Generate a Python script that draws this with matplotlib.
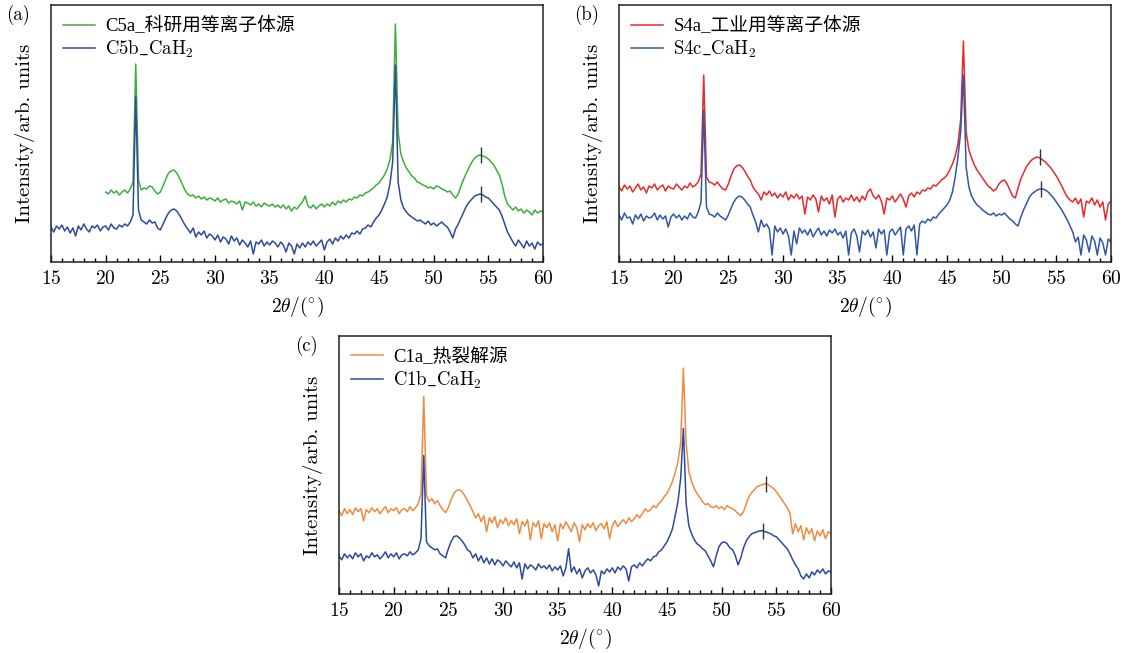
import numpy as np
from matplotlib import pyplot as plt

plt.rcParams['font.family'] = ['cmr10', 'Noto Sans CJK SC', 'DejaVu Sans']
plt.rcParams['mathtext.fontset'] = 'cm'
plt.rcParams['axes.formatter.use_mathtext'] = True

# 2theta sampling (deg)
theta_a_green = np.arange(20, 60.001, 0.25)
theta = np.arange(15, 60.001, 0.25)

# (a) C5a / C5b
c5a = [70, 68, 72, 69, 71, 67, 70, 72, 69, 73, 80, 198,
       82, 72, 74, 73, 76, 75, 71, 68, 70, 76, 83, 89,
       91, 92, 89, 84, 78, 72, 68, 66, 67, 64, 66, 63,
       65, 62, 64, 63, 61, 64, 60, 62, 63, 59, 61, 60,
       58, 61, 52, 60, 59, 57, 60, 56, 58, 55, 59, 57,
       56, 58, 55, 57, 54, 57, 53, 56, 51, 55, 53, 57,
       60, 66, 56, 54, 57, 53, 56, 58, 55, 58, 56, 60,
       57, 61, 59, 62, 60, 63, 62, 65, 64, 67, 66, 69,
       70, 72, 74, 77, 79, 83, 87, 93, 102, 120, 238, 130,
       108, 100, 94, 90, 86, 84, 80, 79, 77, 76, 74, 75,
       73, 76, 75, 73, 72, 70, 71, 67, 64, 68, 76, 83,
       89, 95, 100, 104, 106, 107, 106, 105, 103, 100, 97, 92,
       87, 78, 66, 58, 55, 52, 55, 51, 53, 49, 52, 50,
       47, 52, 49, 51, 50]
c5b = [35, 30, 36, 33, 37, 31, 35, 29, 34, 26, 36, 32,
       38, 33, 30, 36, 34, 37, 31, 35, 36, 32, 38, 34,
       33, 37, 35, 38, 36, 40, 47, 165, 52, 42, 40, 38,
       42, 39, 40, 34, 32, 38, 44, 49, 52, 53, 51, 47,
       42, 37, 33, 29, 34, 25, 30, 27, 31, 24, 28, 26,
       22, 27, 20, 25, 23, 18, 26, 21, 24, 17, 22, 19,
       15, 21, 8, 20, 18, 22, 16, 20, 17, 21, 19, 15,
       20, 17, 10, 19, 16, 8, 18, 14, 19, 15, 20, 17,
       21, 16, 19, 22, 12, 20, 23, 18, 24, 21, 26, 23,
       27, 24, 29, 28, 31, 28, 33, 34, 37, 35, 40, 44,
       47, 52, 58, 65, 78, 100, 197, 80, 62, 54, 50, 47,
       45, 43, 41, 42, 40, 38, 41, 37, 39, 36, 38, 40,
       37, 35, 30, 24, 33, 38, 44, 50, 56, 60, 63, 66,
       67, 68, 67, 65, 64, 61, 58, 55, 52, 46, 38, 30,
       25, 20, 16, 22, 18, 14, 21, 16, 19, 13, 20, 17, 18]

# (b) S4a / S4c
s4a = [75, 71, 77, 73, 76, 70, 74, 78, 72, 75, 69, 76,
       74, 78, 72, 75, 77, 71, 76, 74, 73, 78, 75, 72,
       76, 74, 79, 75, 77, 80, 88, 187, 85, 80, 79, 77,
       80, 76, 73, 72, 78, 86, 93, 96, 97, 95, 91, 86,
       82, 75, 71, 68, 62, 70, 67, 71, 66, 69, 64, 68,
       65, 70, 62, 67, 64, 68, 63, 66, 48, 65, 62, 67,
       63, 50, 66, 61, 64, 58, 67, 45, 63, 66, 60, 64,
       62, 67, 61, 65, 60, 66, 62, 70, 73, 66, 63, 67,
       61, 48, 64, 62, 66, 60, 64, 68, 63, 55, 66, 69,
       65, 70, 68, 72, 71, 74, 73, 77, 76, 79, 82, 84,
       87, 92, 98, 106, 118, 142, 221, 130, 112, 104, 97, 92,
       88, 84, 80, 76, 74, 71, 73, 78, 81, 82, 78, 72,
       66, 64, 74, 83, 89, 95, 99, 102, 104, 105, 104, 102,
       100, 97, 94, 90, 86, 81, 76, 70, 65, 62, 60, 64,
       58, 63, 45, 61, 59, 64, 57, 62, 55, 60, 42, 58, 61]
s4c = [47, 42, 49, 44, 45, 38, 47, 43, 48, 41, 46, 44,
       45, 49, 42, 47, 43, 46, 35, 45, 48, 44, 47, 42,
       46, 43, 49, 45, 44, 50, 60, 152, 55, 48, 47, 45,
       49, 46, 44, 42, 47, 54, 60, 64, 66, 65, 62, 58,
       55, 47, 40, 30, 42, 35, 38, 33, 7, 36, 30, 34,
       28, 33, 26, 7, 31, 18, 34, 29, 32, 27, 33, 25,
       30, 34, 27, 31, 26, 32, 29, 33, 27, 30, 24, 31,
       7, 29, 33, 26, 10, 31, 27, 32, 25, 30, 14, 33,
       28, 32, 7, 30, 33, 27, 31, 35, 7, 33, 36, 31,
       37, 7, 38, 41, 39, 43, 41, 45, 44, 48, 51, 54,
       57, 62, 70, 85, 105, 130, 187, 95, 75, 66, 61, 57,
       55, 52, 50, 48, 47, 49, 46, 48, 47, 49, 46, 43,
       41, 38, 36, 45, 52, 58, 64, 68, 70, 72, 73, 73,
       72, 70, 67, 64, 60, 56, 52, 47, 42, 36, 30, 20,
       25, 7, 27, 22, 10, 26, 21, 7, 24, 19, 7, 23, 20]

# (c) C1a / C1b
c1a = [83, 78, 85, 80, 84, 79, 86, 82, 85, 73, 84, 81,
       86, 82, 85, 80, 84, 87, 81, 85, 83, 86, 80, 84,
       85, 82, 87, 83, 86, 90, 100, 197, 98, 92, 95, 90,
       93, 88, 84, 81, 86, 94, 100, 103, 104, 102, 98, 93,
       88, 82, 76, 80, 72, 78, 62, 76, 71, 77, 66, 74,
       70, 76, 68, 73, 69, 75, 60, 72, 68, 74, 54, 71,
       67, 73, 55, 70, 66, 71, 62, 69, 53, 70, 65, 72,
       67, 62, 71, 66, 52, 69, 64, 70, 66, 71, 63, 68,
       70, 65, 72, 55, 68, 73, 67, 71, 74, 70, 76, 72,
       75, 79, 76, 80, 85, 82, 84, 88, 86, 90, 93, 97,
       100, 106, 112, 121, 132, 150, 225, 150, 122, 112, 105, 100,
       96, 92, 89, 90, 87, 86, 88, 85, 87, 84, 88, 86,
       85, 83, 80, 78, 82, 90, 97, 101, 104, 107, 108, 109,
       110, 109, 107, 105, 102, 98, 94, 90, 86, 80, 60, 70,
       62, 68, 54, 66, 60, 65, 53, 63, 58, 64, 55, 62, 60]
c1b = [38, 34, 40, 36, 39, 35, 41, 37, 40, 33, 38, 36,
       41, 37, 39, 35, 38, 42, 36, 40, 37, 41, 35, 39,
       40, 38, 42, 39, 41, 44, 55, 138, 52, 48, 46, 44,
       45, 40, 38, 36, 45, 52, 57, 58, 56, 53, 49, 44,
       42, 36, 40, 33, 38, 31, 36, 30, 35, 29, 34, 32,
       28, 33, 30, 27, 32, 26, 31, 15, 30, 25, 29, 27,
       24, 30, 26, 28, 25, 29, 23, 27, 24, 28, 18, 26,
       45, 22, 27, 20, 25, 16, 23, 26, 21, 24, 19, 8,
       23, 20, 25, 22, 26, 21, 27, 24, 28, 25, 13, 27,
       29, 26, 31, 28, 32, 35, 33, 37, 38, 42, 44, 48,
       52, 58, 65, 78, 92, 115, 165, 90, 68, 60, 54, 50,
       48, 45, 43, 38, 33, 27, 38, 47, 51, 52, 50, 46,
       44, 38, 29, 36, 46, 53, 57, 60, 61, 62, 63, 63,
       62, 61, 60, 58, 57, 54, 51, 48, 45, 40, 34, 29,
       25, 18, 15, 20, 16, 22, 19, 24, 21, 25, 20, 23, 22]

# broad-peak markers (position, intensity) for each curve
marks_a = [(54.3, 107), (54.3, 68)]
marks_b = [(53.5, 105), (53.6, 73)]
marks_c = [(54.1, 110), (53.8, 63)]

green = '#3cae3c'
blue = '#2e4a9c'
blue2 = '#3157a8'
red = '#e52b2b'
orange = '#ef8a42'

fig = plt.figure(figsize=(11.26, 6.53), dpi=100)
W, H = 1126, 653


def make_ax(l, t, r, b):
    return fig.add_axes([l / W, 1 - b / H, (r - l) / W, (b - t) / H])


def style(ax, tag):
    ax.set_xlim(15, 60)
    ax.set_ylim(0, 257)
    ax.set_xticks(np.arange(15, 61, 5))
    ax.set_xticks(np.arange(15, 61, 1), minor=True)
    ax.set_yticks([])
    ax.tick_params(axis='x', which='major', direction='in', length=5, width=1,
                   labelsize=14, pad=6)
    ax.tick_params(axis='x', which='minor', direction='in', length=3, width=1)
    for s in ax.spines.values():
        s.set_linewidth(1.1)
        s.set_color('#222222')
    ax.set_xlabel(r'$2\theta/(^{\circ})$', fontsize=14, labelpad=5)
    ax.set_ylabel('Intensity/arb. units', fontsize=15)
    ax.yaxis.set_label_coords(-0.033, 0.5)
    ax.text(-0.066, 0.96, tag, transform=ax.transAxes, fontsize=13.5,
            ha='center', va='center')
    leg = ax.legend(loc='upper left', frameon=False, fontsize=13.5, handlelength=1.7,
                    handletextpad=0.55, labelspacing=0.2, borderaxespad=0.25)
    # cmr10 has no plain underscore glyph, so the CJK entry uses a Times-like serif
    leg.get_texts()[0].set_family(['Liberation Serif', 'Noto Sans CJK SC'])


ax1 = make_ax(51, 5, 543, 262)
ax1.plot(theta_a_green, c5a, color=green, lw=1.1, label='C5a_科研用等离子体源')
ax1.plot(theta, c5b, color=blue, lw=1.1, label=r'C5b$\_$CaH$_2$')
for x, y in marks_a:
    ax1.plot(x, y, marker='|', ms=11, mew=1.0, color='#333333')
style(ax1, '(a)')

ax2 = make_ax(619, 5, 1111, 262)
ax2.plot(theta, s4a, color=red, lw=1.1, label='S4a_工业用等离子体源')
ax2.plot(theta, s4c, color=blue2, lw=1.1, label=r'S4c$\_$CaH$_2$')
for x, y in marks_b:
    ax2.plot(x, y, marker='|', ms=11, mew=1.0, color='#333333')
style(ax2, '(b)')

ax3 = make_ax(339, 336, 831, 594)
ax3.plot(theta, c1a, color=orange, lw=1.1, label='C1a_热裂解源')
ax3.plot(theta, c1b, color=blue, lw=1.1, label=r'C1b$\_$CaH$_2$')
for x, y in marks_c:
    ax3.plot(x, y, marker='|', ms=11, mew=1.0, color='#333333')
style(ax3, '(c)')

fig.savefig('out.png', dpi=100)
